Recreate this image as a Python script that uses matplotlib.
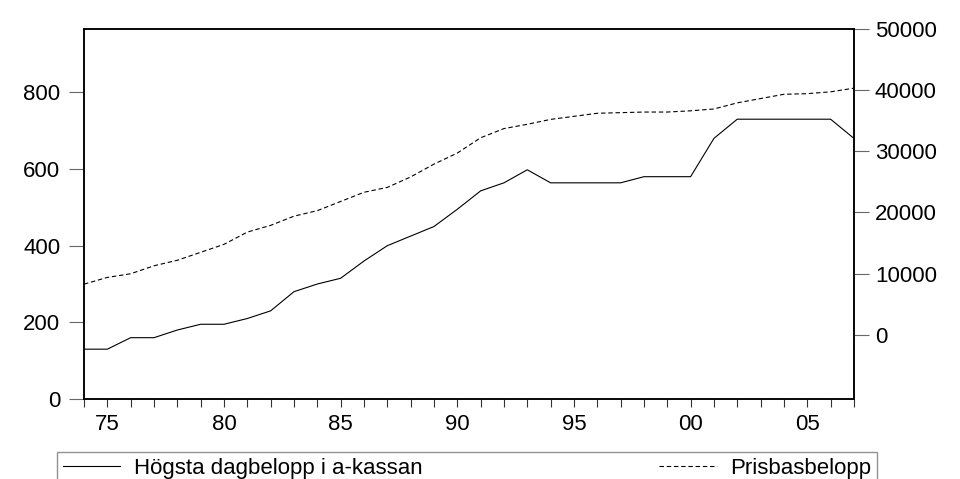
import matplotlib
matplotlib.use("Agg")
import matplotlib.pyplot as plt
from matplotlib.ticker import FixedLocator, MultipleLocator

# -------------------------------------------
#  Data
# -------------------------------------------
years = list(range(1974, 2008))

# Högsta dagbelopp i a-kassan (left axis, kr/dag)
dagbelopp = [130, 130, 160, 160, 180, 195, 195, 210, 230, 280,
             300, 315, 360, 400, 425, 450, 495, 543, 564, 598,
             564, 564, 564, 564, 580, 580, 580, 680, 730, 730,
             730, 730, 730, 680]

# Prisbasbelopp (right axis, kr)
prisbasbelopp = [8300, 9400, 10000, 11300, 12200, 13500, 14800, 16800, 17900, 19400,
                 20300, 21800, 23300, 24100, 25800, 27900, 29700, 32200, 33700, 34400,
                 35200, 35700, 36200, 36300, 36400, 36400, 36600, 36900, 37900, 38600,
                 39300, 39400, 39700, 40300]

left_ticks = [0, 200, 400, 600, 800]
right_ticks = [0, 10000, 20000, 30000, 40000, 50000]
x_ticks = [1975, 1980, 1985, 1990, 1995, 2000, 2005]
x_labels = ["75", "80", "85", "90", "95", "00", "05"]

# -------------------------------------------
#  Figure
# -------------------------------------------
plt.rcParams['font.family'] = ['Liberation Sans', 'DejaVu Sans']
fs = 16

fig = plt.figure(figsize=(9.6, 4.79), dpi=100)
ax = fig.add_axes([0.0875, 0.167, 0.802, 0.773])
ax2 = ax.twinx()

l1, = ax.plot(years, dagbelopp, color='black', lw=0.8)
l2, = ax2.plot(years, prisbasbelopp, color='black', lw=0.8, dashes=(4, 2.5))

ax.set_xlim(1974, 2007)
ax.set_ylim(0, 966)
ax2.set_ylim(-10450, 50000)

ax.xaxis.set_major_locator(FixedLocator(x_ticks))
ax.set_xticklabels(x_labels)
ax.xaxis.set_minor_locator(MultipleLocator(1))
ax.set_yticks(left_ticks)
ax2.set_yticks(right_ticks)

ax.tick_params(axis='x', which='both', direction='out', length=6, width=0.8,
               labelsize=fs, pad=5, color='#333333')
ax.tick_params(axis='y', direction='out', length=11, width=0.8,
               labelsize=fs, pad=6, color='#666666')
ax2.tick_params(axis='y', direction='out', length=11, width=0.8,
                labelsize=fs, pad=4, color='#666666')

for a in (ax, ax2):
    for s in a.spines.values():
        s.set_linewidth(1.1)
        s.set_color('black')

# legend box spans x = 57..877 px, top at ~452 px
fig.legend([l1, l2], ['Högsta dagbelopp i a-kassan', 'Prisbasbelopp'],
           loc='upper left', bbox_to_anchor=(0.0595, 0.0, 0.854, 0.056),
           mode='expand', ncol=2,
           frameon=True, fancybox=False, edgecolor='#777777', fontsize=fs,
           handlelength=2.6, handletextpad=0.6, columnspacing=2.0,
           borderpad=0.25, borderaxespad=0)

fig.savefig('out.png', dpi=100)
